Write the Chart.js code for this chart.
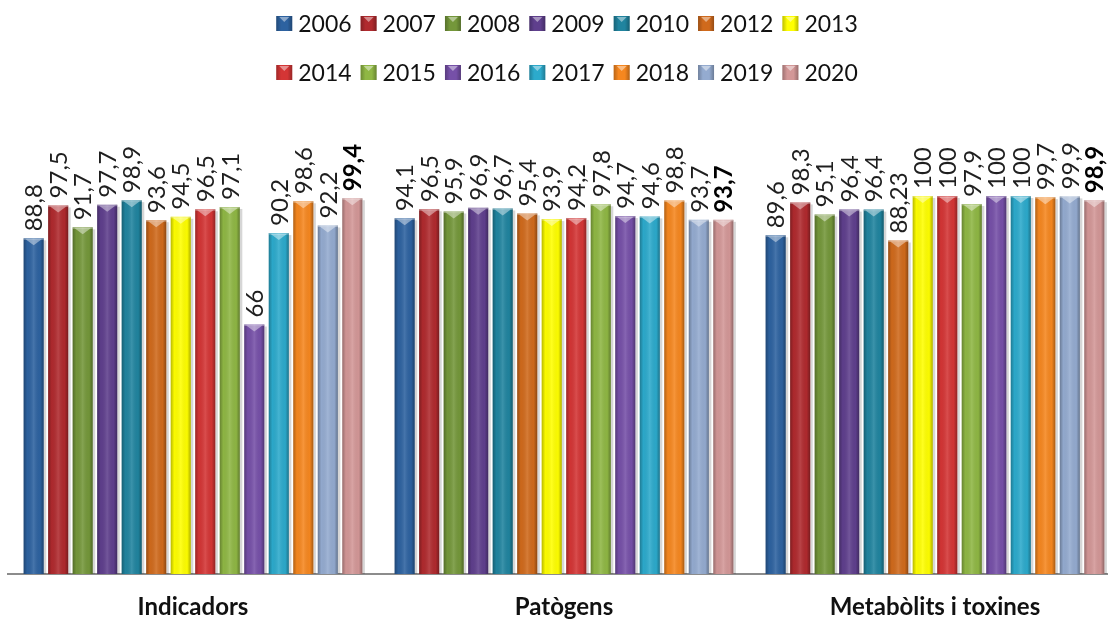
<!DOCTYPE html>
<html>
<head>
<meta charset="utf-8">
<script src="https://cdn.jsdelivr.net/npm/chart.js@4.4.1/dist/chart.umd.min.js"></script>
<style>
  html, body { margin: 0; padding: 0; background: #ffffff; overflow: hidden; }
  #wrap { width: 1108px; height: 621px; overflow: hidden; }
  canvas { display: block; }
</style>
</head>
<body>
<div id="wrap"><canvas id="c" width="1134" height="621"></canvas></div>
<script>
// Analysis groups on the x axis
const categories = ['Indicadors', 'Patògens', 'Metabòlits i toxines'];

// One series per year
const years = ['2006', '2007', '2008', '2009', '2010', '2012', '2013',
               '2014', '2015', '2016', '2017', '2018', '2019', '2020'];

// Percentages per group, in the order of the years above
const indicadors = [88.8, 97.5, 91.7, 97.7, 98.9, 93.6, 94.5, 96.5, 97.1, 66, 90.2, 98.6, 92.2, 99.4];
const patogens   = [94.1, 96.5, 95.9, 96.9, 96.7, 95.4, 93.9, 94.2, 97.8, 94.7, 94.6, 98.8, 93.7, 93.7];
const metabolits = [89.6, 98.3, 95.1, 96.4, 96.4, 88.23, 100, 100, 97.9, 100, 100, 99.7, 99.9, 98.9];

const colors = ['#2d62a0', '#b02a2e', '#74973a', '#5f3f8d', '#20849f', '#d06a1c', '#ffff00',
                '#d43535', '#8fb744', '#7650a8', '#2caacc', '#f6871f', '#94abd0', '#d39797'];

const FONT = 'Lato, "Open Sans", "Noto Sans", sans-serif';

const datasets = years.map((y, i) => ({
  label: y,
  data: [indicadors[i], patogens[i], metabolits[i]],
  backgroundColor: colors[i],
  borderWidth: 0,
  categoryPercentage: 0.925,
  barPercentage: 0.82
}));

// Soft cylinder shading, top bevel and a thin drop shadow on each bar
const bevelPlugin = {
  id: 'bevel',
  beforeDatasetsDraw(chart) {
    const ctx = chart.ctx;
    ctx.save();
    chart.data.datasets.forEach((ds, di) => {
      const meta = chart.getDatasetMeta(di);
      meta.data.forEach(el => {
        const { x, y, base, width } = el.getProps(['x', 'y', 'base', 'width'], true);
        ctx.fillStyle = 'rgba(0,0,0,0.16)';
        ctx.fillRect(x + width / 2, y + 2, 2.5, base - y - 2);
      });
    });
    ctx.restore();
  },
  afterDatasetsDraw(chart) {
    const ctx = chart.ctx;
    ctx.save();
    chart.data.datasets.forEach((ds, di) => {
      const meta = chart.getDatasetMeta(di);
      meta.data.forEach(el => {
        const { x, y, base, width } = el.getProps(['x', 'y', 'base', 'width'], true);
        const l = x - width / 2;
        const g = ctx.createLinearGradient(l, 0, l + width, 0);
        g.addColorStop(0, 'rgba(0,0,0,0.28)');
        g.addColorStop(0.18, 'rgba(0,0,0,0.02)');
        g.addColorStop(0.5, 'rgba(255,255,255,0.12)');
        g.addColorStop(0.82, 'rgba(0,0,0,0.02)');
        g.addColorStop(1, 'rgba(0,0,0,0.32)');
        ctx.fillStyle = g;
        ctx.fillRect(l, y, width, base - y);
        // top bevel
        ctx.fillStyle = 'rgba(255,255,255,0.35)';
        ctx.fillRect(l, y, width, 1.5);
        ctx.beginPath();
        ctx.moveTo(l + 2, y + 1);
        ctx.lineTo(l + width - 2, y + 1);
        ctx.lineTo(x, y + 7);
        ctx.closePath();
        ctx.fillStyle = 'rgba(255,255,255,0.42)';
        ctx.fill();
      });
    });
    ctx.restore();
  }
};

// Rotated value labels above every bar; the latest year in bold
const valueLabels = {
  id: 'valueLabels',
  afterDatasetsDraw(chart) {
    const ctx = chart.ctx;
    const last = chart.data.datasets.length - 1;
    ctx.save();
    chart.data.datasets.forEach((ds, di) => {
      const meta = chart.getDatasetMeta(di);
      meta.data.forEach((el, j) => {
        const { x, y } = el.getProps(['x', 'y'], true);
        const txt = String(ds.data[j]).replace('.', ',');
        ctx.save();
        ctx.translate(x, y - 7);
        ctx.rotate(-Math.PI / 2);
        ctx.font = (di === last ? 'bold ' : '') + '24px ' + FONT;
        ctx.fillStyle = di === last ? '#000000' : '#1e1e1e';
        ctx.textAlign = 'left';
        ctx.textBaseline = 'middle';
        ctx.fillText(txt, 0, 1);
        ctx.restore();
      });
    });
    ctx.restore();
  }
};

// Two-row legend, seven years per row
const yearLegend = {
  id: 'yearLegend',
  afterDraw(chart) {
    const ctx = chart.ctx;
    const ds = chart.data.datasets;
    const rows = [ds.slice(0, 7), ds.slice(7)];
    const rowY = [24, 73];
    const box = 16, gap = 6, spacing = 9;
    ctx.save();
    ctx.font = '23px ' + FONT;
    ctx.textBaseline = 'middle';
    ctx.textAlign = 'left';
    const cx = chart.width / 2;
    rows.forEach((row, r) => {
      const widths = row.map(d => box + gap + ctx.measureText(d.label).width);
      const total = widths.reduce((a, b) => a + b, 0) + spacing * (row.length - 1);
      let xx = cx - total / 2;
      const yy = rowY[r];
      row.forEach((d, k) => {
        const bx = xx, by = yy - 8;
        ctx.fillStyle = d.backgroundColor;
        ctx.fillRect(bx, by, box, 15);
        const g = ctx.createLinearGradient(bx, 0, bx + box, 0);
        g.addColorStop(0, 'rgba(0,0,0,0.25)');
        g.addColorStop(0.3, 'rgba(0,0,0,0)');
        g.addColorStop(0.7, 'rgba(0,0,0,0)');
        g.addColorStop(1, 'rgba(0,0,0,0.28)');
        ctx.fillStyle = g;
        ctx.fillRect(bx, by, box, 15);
        ctx.beginPath();
        ctx.moveTo(bx + 3, by + 1);
        ctx.lineTo(bx + box - 3, by + 1);
        ctx.lineTo(bx + box / 2, by + 6);
        ctx.closePath();
        ctx.fillStyle = 'rgba(255,255,255,0.45)';
        ctx.fill();
        ctx.fillStyle = '#111111';
        ctx.fillText(d.label, bx + box + gap, yy + 1);
        xx += widths[k] + spacing;
      });
    });
    ctx.restore();
  }
};

new Chart(document.getElementById('c'), {
  type: 'bar',
  data: { labels: categories, datasets },
  plugins: [bevelPlugin, valueLabels, yearLegend],
  options: {
    responsive: false,
    animation: false,
    layout: { padding: { top: 196, left: 7.5, right: 13.5, bottom: 0 } },
    plugins: {
      legend: { display: false },
      tooltip: { enabled: false }
    },
    scales: {
      x: {
        grid: { display: false },
        border: { display: true, color: '#8c8c8c', width: 2 },
        ticks: {
          color: '#111111',
          padding: 11,
          font: { family: FONT, size: 24, weight: 'bold' }
        },
        afterFit(scale) { scale.height = 47; }
      },
      y: { display: false, min: 0, max: 100 }
    }
  }
});
</script>
</body>
</html>
